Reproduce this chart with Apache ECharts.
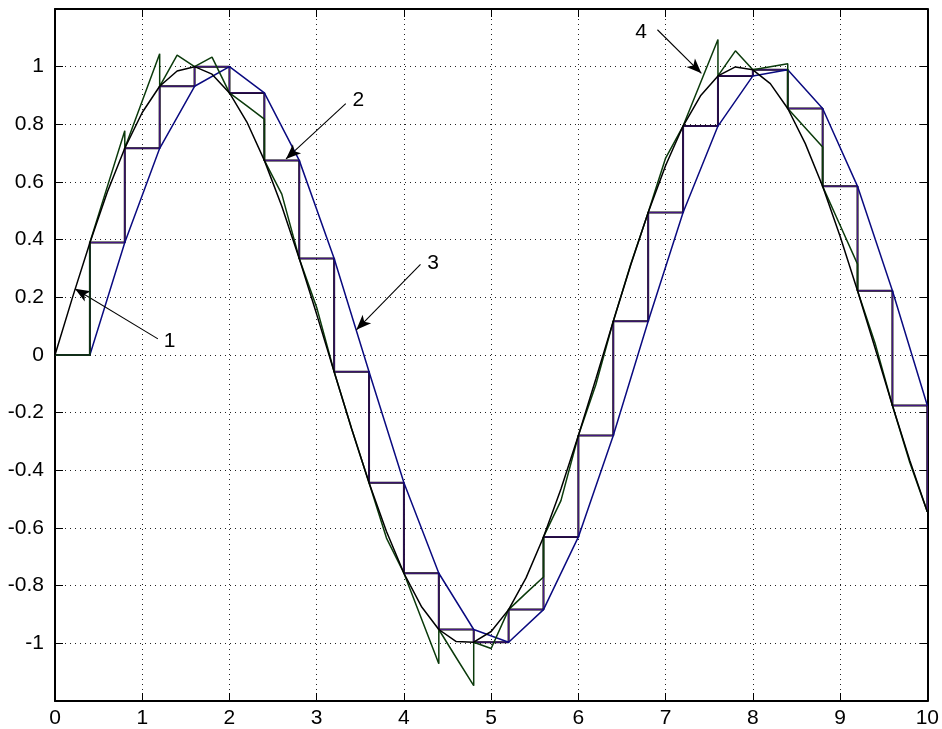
<!DOCTYPE html>
<html><head><meta charset="utf-8">
<script src="https://cdn.jsdelivr.net/npm/echarts@6/dist/echarts.min.js"></script>
<style>html,body{margin:0;padding:0;background:#fff}#c{width:942px;height:729px}</style>
</head><body><div id="c"></div>
<script>
// Sample instants (T = 0.4) and sampled values
const sampleT = [0,0.4,0.8,1.2,1.6,2.0,2.4,2.8,3.2,3.6,4.0,4.4,4.8,5.2,5.6,6.0,6.4,6.8,7.2,7.6,8.0,8.4,8.8,9.2,9.6,10.0];
const sampleV = [0,0.39,0.717,0.932,1.0,0.909,0.675,0.335,-0.058,-0.443,-0.757,-0.952,-0.996,-0.883,-0.631,-0.279,0.117,0.494,0.794,0.968,0.989,0.855,0.585,0.223,-0.175,-0.544];

// Continuous signal (curve 1), read at 0.2 steps
const sineT = [0,0.2,0.4,0.6,0.8,1.0,1.2,1.4,1.6,1.8,2.0,2.2,2.4,2.6,2.8,3.0,3.2,3.4,3.6,3.8,4.0,4.2,4.4,4.6,4.8,5.0,5.2,5.4,5.6,5.8,6.0,6.2,6.4,6.6,6.8,7.0,7.2,7.4,7.6,7.8,8.0,8.2,8.4,8.6,8.8,9.0,9.2,9.4,9.6,9.8,10.0];
const sineV = [0,0.199,0.389,0.565,0.717,0.841,0.932,0.985,1.0,0.974,0.909,0.808,0.675,0.516,0.335,0.141,-0.058,-0.256,-0.443,-0.612,-0.757,-0.872,-0.952,-0.994,-0.996,-0.959,-0.883,-0.773,-0.631,-0.465,-0.279,-0.083,0.117,0.312,0.494,0.657,0.794,0.899,0.968,0.999,0.989,0.941,0.855,0.734,0.585,0.412,0.223,0.025,-0.175,-0.367,-0.544];

// Curve 3: delayed linear interpolation
const delayT = [0.4,0.8,1.2,1.6,2.0,2.4,2.8,3.2,3.6,4.0,4.4,4.8,5.2,5.6,6.0,6.4,6.8,7.2,7.6,8.0,8.4,8.8,9.2,9.6,10.0];
const delayV = [0,0.39,0.717,0.932,1.0,0.909,0.675,0.335,-0.058,-0.443,-0.757,-0.952,-0.996,-0.883,-0.631,-0.279,0.117,0.494,0.794,0.968,0.989,0.855,0.585,0.223,-0.175];

// Curve 4: predictive first-order hold (plotted output points)
const fohT = [0,0.4,0.4,0.6,0.8,0.8,1.0,1.2,1.2,1.4,1.6,1.8,2.0,2.2,2.4,2.4,2.6,2.8,3.0,3.2,3.4,3.6,3.8,4.0,4.2,4.4,4.4,4.6,4.8,4.8,5.0,5.2,5.4,5.6,5.6,5.8,6.0,6.2,6.4,6.6,6.8,7.0,7.2,7.4,7.6,7.6,7.8,8.0,8.2,8.4,8.4,8.6,8.8,8.8,9.0,9.2,9.2,9.4,9.6,9.8,10.0];
const fohV = [0,0,0.39,0.584,0.778,0.717,0.881,1.045,0.932,1.04,1.0,1.033,0.909,0.864,0.818,0.675,0.558,0.335,0.165,-0.058,-0.255,-0.443,-0.635,-0.757,-0.914,-1.071,-0.952,-1.05,-1.147,-0.996,-1.018,-0.883,-0.826,-0.77,-0.631,-0.505,-0.279,-0.103,0.117,0.315,0.494,0.683,0.794,0.944,1.094,0.968,1.055,0.989,1.0,1.01,0.855,0.788,0.721,0.585,0.45,0.315,0.223,0.042,-0.175,-0.374,-0.544];

// Annotation labels and arrows (data coordinates)
const noteText = ['1','2','3','4'];
const noteLabelX = [1.314,3.478,4.335,6.72];
const noteLabelY = [0.049,0.884,0.32,1.12];
const arrowFromX = [1.18,3.333,4.19,6.906];
const arrowFromY = [0.056,0.872,0.314,1.128];
const arrowToX = [0.229,2.648,3.455,7.41];
const arrowToY = [0.23,0.68,0.0875,0.977];

const xTicks = {min:0,max:10,interval:1};
const yTicks = {min:-1.2,max:1.2,interval:0.2};

const zip = (a,b)=>a.map((v,i)=>[v,b[i]]);
const FONT = "'Liberation Sans', Arial, Helvetica, sans-serif";

const chart = echarts.init(document.getElementById('c'), null, {renderer:'canvas'});
const gridLine = {show:true, lineStyle:{color:'#222', width:1, type:[1,4]}};
const tickIn = {show:true, inside:true, length:8, lineStyle:{color:'#000', width:1}};
const axLine = {show:true, onZero:false, lineStyle:{color:'#000', width:2}};

const ylab = v => (Math.abs(v) > 1.001 ? '' : String(Number(v.toFixed(1))));

chart.setOption({
  animation:false,
  backgroundColor:'#fff',
  grid:{left:55, right:12, top:9, bottom:28, containLabel:false},
  xAxis:[
    {type:'value', min:xTicks.min, max:xTicks.max, interval:xTicks.interval, position:'bottom',
     axisLine:axLine, axisTick:tickIn, splitLine:gridLine,
     axisLabel:{color:'#000', fontSize:21, fontFamily:FONT, margin:7}},
    {type:'value', min:xTicks.min, max:xTicks.max, interval:xTicks.interval, position:'top',
     axisLine:axLine, axisTick:tickIn, splitLine:{show:false}, axisLabel:{show:false}}
  ],
  yAxis:[
    {type:'value', min:yTicks.min, max:yTicks.max, interval:yTicks.interval, position:'left',
     axisLine:axLine, axisTick:tickIn, splitLine:gridLine,
     axisLabel:{color:'#000', fontSize:21, fontFamily:FONT, margin:11, formatter:ylab}},
    {type:'value', min:yTicks.min, max:yTicks.max, interval:yTicks.interval, position:'right',
     axisLine:axLine, axisTick:tickIn, splitLine:{show:false}, axisLabel:{show:false}}
  ],
  series:[
    {name:'stairs-dark', type:'line', step:'end', data:zip(sampleT,sampleV), showSymbol:false,
     lineStyle:{color:'#000', width:2}, z:2},
    {name:'stairs', type:'line', step:'end', data:zip(sampleT,sampleV), showSymbol:false,
     lineStyle:{color:'#4a1a8a', width:1}, z:3},
    {name:'delayed', type:'line', data:zip(delayT,delayV), showSymbol:false,
     lineStyle:{color:'#0a0a80', width:1.5}, z:4},
    {name:'foh', type:'line', data:zip(fohT,fohV), showSymbol:false,
     lineStyle:{color:'#0b3a0b', width:1.5}, z:5},
    {name:'sine', type:'line', data:zip(sineT,sineV), showSymbol:false,
     lineStyle:{color:'#000', width:1.5}, z:6,
     markLine:{silent:true, symbol:['none','arrow'], symbolSize:[9,15], precision:4,
       label:{show:false}, lineStyle:{color:'#000', width:1.1, type:'solid', opacity:1},
       itemStyle:{color:'#000'},
       data:noteText.map((t,i)=>[{coord:[arrowFromX[i],arrowFromY[i]]},{coord:[arrowToX[i],arrowToY[i]]}])}},
    {name:'notes', type:'scatter', symbol:'circle', symbolSize:1, data:noteText.map((t,i)=>[noteLabelX[i],noteLabelY[i],t]),
     itemStyle:{color:'#fff', opacity:0}, z:7, silent:true,
     label:{show:true, position:'inside', formatter:p=>p.data[2], color:'#000', opacity:1, fontSize:21, fontFamily:FONT}}
  ]
});
</script>
</body></html>
